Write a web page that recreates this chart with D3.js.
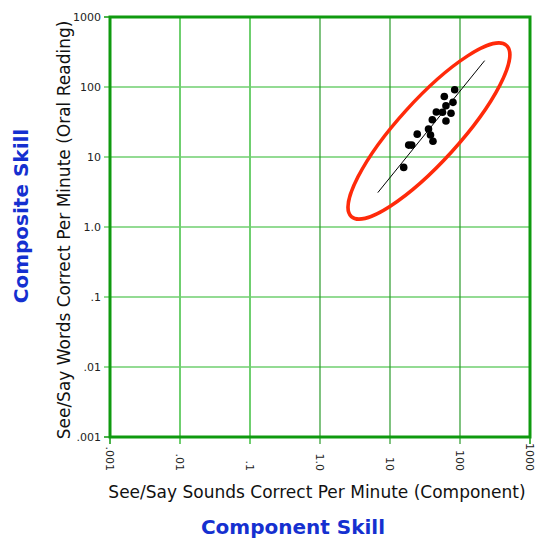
<!DOCTYPE html>
<html>
<head>
<meta charset="utf-8">
<script src="https://cdn.jsdelivr.net/npm/d3@7"></script>
<style>
  html, body { margin: 0; padding: 0; background: #fff; }
  svg { display: block; }
</style>
</head>
<body>
<svg id="chart" width="539" height="540"></svg>
<script>
// ---- data ----
const tickValues = [0.001, 0.01, 0.1, 1, 10, 100, 1000];
const tickLabels = [".001", ".01", ".1", "1.0", "10", "100", "1000"];
const soundsPerMin = [84, 59.7, 79.4, 63, 45.9, 56.2, 74.4, 40.2, 63, 35.5, 24.5, 37.9, 41.1, 18.5, 20.4, 15.7];
const wordsPerMin  = [91.5, 73.2, 60.4, 54.1, 43.9, 43.5, 42.1, 34.1, 32.7, 25.1, 21.2, 20.6, 16.8, 14.8, 14.8, 7.1];
const fitLineX = [6.7, 225];
const fitLineY = [3.1, 238];
// ellipse annotation: centre in data units, semi-axes in decades, angle in degrees
const ellipseCenter = [36, 23.5];
const ellipseAxesDecades = [1.65, 0.44];
const ellipseAngle = 47.8;

const xTitle = "See/Say Sounds Correct Per Minute (Component)";
const yTitle = "See/Say Words Correct Per Minute (Oral Reading)";
const xSkill = "Component Skill";
const ySkill = "Composite Skill";

// ---- layout ----
const svg = d3.select("#chart");
const L = 110, R = 530, T = 17, B = 437;
const x = d3.scaleLog().domain([0.001, 1000]).range([L, R]);
const y = d3.scaleLog().domain([0.001, 1000]).range([B, T]);

const font = "'DejaVu Sans', Verdana, sans-serif";
const frameGreen = "#0f9a0f";
const lightGreen = "#6fcf6f";
const darkGreen = "#2a9a2a";

// horizontal grid lines (with small tick stubs to the left)
svg.append("g").selectAll("line").data(tickValues.slice(1, -1)).join("line")
  .attr("x1", L - 6).attr("x2", R)
  .attr("y1", d => y(d)).attr("y2", d => y(d))
  .attr("stroke", lightGreen).attr("stroke-width", 1.5);

// vertical grid lines (with tick stubs below)
svg.append("g").selectAll("line").data(tickValues.slice(1, -1)).join("line")
  .attr("x1", d => x(d)).attr("x2", d => x(d))
  .attr("y1", T).attr("y2", B + 7)
  .attr("stroke", d => d < 1 ? lightGreen : darkGreen)
  .attr("stroke-width", d => d < 1 ? 2 : 1.2);

// frame
svg.append("rect")
  .attr("x", L).attr("y", T).attr("width", R - L).attr("height", B - T)
  .attr("fill", "none").attr("stroke", frameGreen).attr("stroke-width", 3);
// small tick stubs on frame corners
svg.append("line").attr("x1", L - 6).attr("x2", L).attr("y1", T).attr("y2", T)
  .attr("stroke", frameGreen).attr("stroke-width", 1.5);
svg.append("line").attr("x1", L - 6).attr("x2", L).attr("y1", B).attr("y2", B)
  .attr("stroke", frameGreen).attr("stroke-width", 1.5);
svg.append("line").attr("x1", L).attr("x2", L).attr("y1", B).attr("y2", B + 7)
  .attr("stroke", frameGreen).attr("stroke-width", 1.5);
svg.append("line").attr("x1", R).attr("x2", R).attr("y1", B).attr("y2", B + 7)
  .attr("stroke", frameGreen).attr("stroke-width", 1.5);

// y tick labels
svg.append("g").selectAll("text").data(tickValues).join("text")
  .attr("x", L - 9).attr("y", d => y(d)).attr("dy", "0.35em")
  .attr("text-anchor", "end")
  .attr("font-family", font).attr("font-size", 11).attr("fill", "#222")
  .text((d, i) => tickLabels[i]);

// x tick labels (rotated 90deg)
svg.append("g").selectAll("text").data(tickValues).join("text")
  .attr("transform", d => `translate(${x(d)},${B + 34}) rotate(90)`)
  .attr("dy", "0.35em")
  .attr("text-anchor", "end")
  .attr("font-family", font).attr("font-size", 11).attr("fill", "#222")
  .text((d, i) => tickLabels[i]);

// ellipse
const pxPerDecade = (R - L) / 6;
const [ecx, ecy] = [x(ellipseCenter[0]), y(ellipseCenter[1])];
svg.append("ellipse")
  .attr("cx", 0).attr("cy", 0)
  .attr("rx", ellipseAxesDecades[0] * pxPerDecade)
  .attr("ry", ellipseAxesDecades[1] * pxPerDecade)
  .attr("transform", `translate(${ecx},${ecy}) rotate(${-ellipseAngle})`)
  .attr("fill", "none").attr("stroke", "#ff2a0a").attr("stroke-width", 3.5);

// fit line
svg.append("line")
  .attr("x1", x(fitLineX[0])).attr("y1", y(fitLineY[0]))
  .attr("x2", x(fitLineX[1])).attr("y2", y(fitLineY[1]))
  .attr("stroke", "#000").attr("stroke-width", 1);

// points
svg.append("g").selectAll("circle").data(soundsPerMin.map((v, i) => [v, wordsPerMin[i]])).join("circle")
  .attr("cx", d => x(d[0])).attr("cy", d => y(d[1])).attr("r", 3.8)
  .attr("fill", "#000");

// axis titles
svg.append("text")
  .attr("x", 317).attr("y", 498)
  .attr("text-anchor", "middle")
  .attr("font-family", font).attr("font-size", 17).attr("fill", "#111")
  .text(xTitle);
svg.append("text")
  .attr("transform", `translate(70,230) rotate(-90)`)
  .attr("text-anchor", "middle")
  .attr("font-family", font).attr("font-size", 17).attr("fill", "#111")
  .text(yTitle);

// skill labels
svg.append("text")
  .attr("x", 293).attr("y", 534)
  .attr("text-anchor", "middle")
  .attr("font-family", font).attr("font-weight", "bold").attr("font-size", 20).attr("fill", "#1530d0")
  .text(xSkill);
svg.append("text")
  .attr("transform", `translate(28,216) rotate(-90)`)
  .attr("text-anchor", "middle")
  .attr("font-family", font).attr("font-weight", "bold").attr("font-size", 20).attr("fill", "#1530d0")
  .text(ySkill);
</script>
</body>
</html>
